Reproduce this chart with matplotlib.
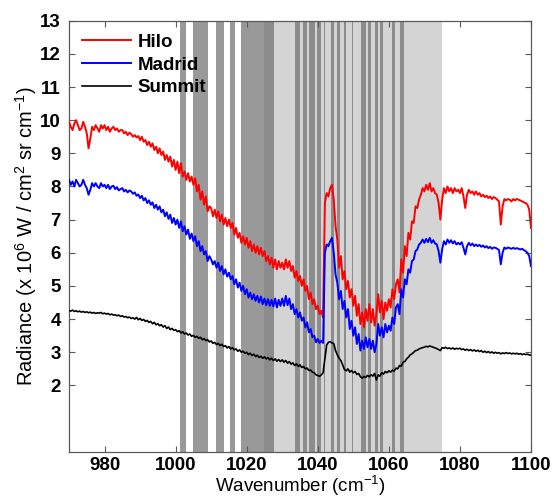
import numpy as np
import matplotlib
matplotlib.use("Agg")
import matplotlib.pyplot as plt

plt.rcParams["font.family"] = ["Liberation Sans", "DejaVu Sans"]
plt.rcParams["mathtext.fontset"] = "custom"
plt.rcParams["mathtext.rm"] = "Liberation Sans"
plt.rcParams["mathtext.it"] = "Liberation Sans:italic"
plt.rcParams["mathtext.bf"] = "Liberation Sans:bold"

# wavenumber grid, 970 -> 1100 cm-1 in 0.5 steps (261 points)
wavenumber = np.arange(970.0, 1100.25, 0.5)

hilo = [
    9.95, 9.80, 9.70, 9.90, 10.00, 9.85, 9.70, 9.75, 9.95, 9.80,
    9.60, 9.15, 9.45, 9.80, 9.70, 9.85, 9.75, 9.65, 9.85, 9.75,
    9.85, 9.70, 9.80, 9.65, 9.75, 9.80, 9.70, 9.75, 9.65, 9.70,
    9.70, 9.60, 9.65, 9.55, 9.62, 9.58, 9.50, 9.55, 9.48, 9.52,
    9.40, 9.50, 9.35, 9.40, 9.25, 9.35, 9.20, 9.30, 9.10, 9.20,
    9.00, 9.15, 8.95, 9.05, 8.80, 8.95, 8.75, 8.90, 8.60, 8.80,
    8.50, 8.75, 8.40, 8.70, 8.30, 8.45, 8.20, 8.40, 8.15, 8.30,
    8.05, 8.25, 7.85, 8.05, 7.60, 7.85, 7.45, 7.70, 7.25, 7.40,
    7.35, 7.10, 7.30, 7.05, 7.25, 6.95, 7.15, 6.85, 7.05, 6.80,
    7.00, 6.75, 6.90, 6.55, 6.75, 6.45, 6.60, 6.30, 6.50, 6.25,
    6.45, 6.15, 6.35, 6.05, 6.25, 6.00, 6.20, 5.95, 6.15, 5.90,
    6.05, 5.75, 5.90, 5.65, 5.85, 5.55, 5.80, 5.50, 5.75, 5.55,
    5.70, 5.50, 5.80, 5.55, 5.75, 5.45, 5.60, 5.25, 5.45, 5.15,
    5.30, 5.00, 5.20, 4.85, 5.00, 4.60, 4.80, 4.45, 4.60, 4.30,
    4.40, 4.15, 4.25, 4.05, 7.50, 7.80, 7.70, 7.95, 8.05, 7.60,
    6.80, 6.40, 5.55, 5.90, 5.20, 5.45, 4.90, 5.15, 4.65, 4.90,
    4.40, 4.70, 4.10, 4.45, 3.85, 4.20, 3.75, 4.30, 3.95, 4.45,
    3.90, 4.30, 3.80, 4.15, 4.75, 4.20, 4.55, 4.00, 4.50, 4.25,
    4.60, 4.35, 4.90, 4.60, 5.05, 5.20, 4.80, 5.80, 5.40, 6.20,
    5.90, 6.60, 6.40, 6.95, 6.90, 7.40, 7.35, 7.60, 7.75, 7.95,
    7.85, 8.05, 7.90, 8.10, 7.85, 7.95, 7.80, 7.75, 7.50, 7.00,
    7.60, 7.95, 7.80, 8.00, 7.85, 7.95, 7.80, 7.95, 7.85, 7.90,
    7.80, 7.95, 7.70, 7.35, 7.75, 7.90, 7.80, 7.85, 7.75, 7.85,
    7.75, 7.80, 7.70, 7.75, 7.68, 7.72, 7.65, 7.70, 7.62, 7.68,
    7.65, 7.60, 7.55, 6.85, 7.40, 7.62, 7.58, 7.62, 7.60, 7.55,
    7.62, 7.58, 7.62, 7.60, 7.58, 7.55, 7.52, 7.50, 7.45, 7.30,
    6.75,
]

madrid = [
    8.20, 8.05, 8.15, 8.00, 8.20, 8.10, 8.00, 8.05, 8.20, 8.05,
    7.95, 7.75, 7.90, 8.10, 8.00, 8.10, 8.00, 7.95, 8.10, 8.00,
    8.05, 7.95, 8.05, 7.92, 8.00, 8.02, 7.92, 7.98, 7.88, 7.92,
    7.95, 7.85, 7.90, 7.82, 7.88, 7.85, 7.78, 7.82, 7.72, 7.76,
    7.65, 7.72, 7.58, 7.65, 7.50, 7.58, 7.45, 7.52, 7.35, 7.45,
    7.30, 7.40, 7.22, 7.30, 7.10, 7.22, 7.02, 7.15, 6.90, 7.05,
    6.85, 7.00, 6.75, 6.95, 6.65, 6.80, 6.55, 6.70, 6.42, 6.58,
    6.35, 6.50, 6.20, 6.35, 6.05, 6.20, 5.95, 6.05, 5.75, 5.90,
    5.80, 5.65, 5.75, 5.55, 5.70, 5.45, 5.60, 5.35, 5.50, 5.28,
    5.40, 5.20, 5.30, 5.05, 5.20, 4.95, 5.10, 4.85, 5.00, 4.75,
    4.90, 4.65, 4.80, 4.60, 4.75, 4.55, 4.70, 4.50, 4.68, 4.45,
    4.62, 4.42, 4.60, 4.40, 4.58, 4.38, 4.62, 4.35, 4.58, 4.40,
    4.62, 4.40, 4.70, 4.42, 4.62, 4.30, 4.45, 4.15, 4.30, 4.05,
    4.20, 3.95, 4.05, 3.75, 3.90, 3.60, 3.70, 3.45, 3.50, 3.30,
    3.40, 3.28, 3.35, 3.28, 6.00, 6.25, 6.20, 6.35, 6.45, 6.00,
    5.35, 5.10, 4.60, 4.85, 4.30, 4.55, 4.05, 4.30, 3.70, 3.95,
    3.50, 3.75, 3.25, 3.55, 3.05, 3.35, 3.10, 3.45, 3.15, 3.40,
    3.10, 3.35, 3.00, 3.25, 3.85, 3.50, 3.75, 3.45, 3.85, 3.60,
    3.80, 3.65, 4.05, 3.85, 4.35, 4.45, 4.15, 4.90, 4.65, 5.20,
    5.05, 5.50, 5.40, 5.75, 5.80, 6.05, 6.10, 6.25, 6.30, 6.40,
    6.30, 6.42, 6.32, 6.45, 6.30, 6.38, 6.28, 6.25, 6.05, 5.70,
    6.10, 6.35, 6.25, 6.40, 6.30, 6.38, 6.28, 6.35, 6.25, 6.30,
    6.25, 6.32, 6.15, 5.95, 6.20, 6.30, 6.22, 6.28, 6.20, 6.25,
    6.20, 6.24, 6.18, 6.22, 6.16, 6.20, 6.14, 6.18, 6.12, 6.16,
    6.15, 6.12, 6.08, 5.65, 6.00, 6.16, 6.12, 6.16, 6.14, 6.12,
    6.15, 6.12, 6.14, 6.12, 6.10, 6.12, 6.08, 6.05, 6.00, 5.90,
    5.60,
]

summit = [
    4.26, 4.24, 4.27, 4.23, 4.25, 4.22, 4.24, 4.21, 4.23, 4.20,
    4.22, 4.19, 4.21, 4.18, 4.20, 4.17, 4.19, 4.18, 4.20, 4.16,
    4.18, 4.15, 4.17, 4.13, 4.15, 4.12, 4.13, 4.10, 4.12, 4.08,
    4.10, 4.06, 4.08, 4.04, 4.06, 4.02, 4.04, 4.00, 4.05, 3.98,
    4.02, 3.96, 3.99, 3.93, 3.96, 3.90, 3.93, 3.86, 3.90, 3.83,
    3.86, 3.80, 3.83, 3.76, 3.80, 3.72, 3.76, 3.68, 3.72, 3.66,
    3.68, 3.62, 3.65, 3.58, 3.62, 3.55, 3.58, 3.52, 3.55, 3.48,
    3.51, 3.45, 3.48, 3.42, 3.45, 3.38, 3.41, 3.35, 3.38, 3.31,
    3.34, 3.27, 3.30, 3.23, 3.27, 3.20, 3.24, 3.17, 3.20, 3.13,
    3.17, 3.10, 3.14, 3.07, 3.10, 3.03, 3.07, 3.00, 3.03, 2.97,
    3.00, 2.93, 2.97, 2.90, 2.94, 2.87, 2.91, 2.84, 2.88, 2.82,
    2.86, 2.80, 2.84, 2.77, 2.82, 2.75, 2.80, 2.73, 2.78, 2.72,
    2.77, 2.70, 2.75, 2.67, 2.72, 2.64, 2.68, 2.60, 2.65, 2.57,
    2.62, 2.54, 2.57, 2.50, 2.52, 2.45, 2.46, 2.40, 2.38, 2.32,
    2.30, 2.27, 2.32, 2.38, 2.80, 3.22, 3.30, 3.32, 3.28, 3.26,
    3.05, 2.92, 2.82, 2.75, 2.62, 2.48, 2.44, 2.50, 2.40, 2.45,
    2.38, 2.42, 2.33, 2.36, 2.26, 2.22, 2.27, 2.24, 2.30, 2.26,
    2.32, 2.28, 2.36, 2.16, 2.32, 2.28, 2.38, 2.34, 2.42, 2.38,
    2.44, 2.40, 2.46, 2.43, 2.52, 2.50, 2.60, 2.58, 2.70, 2.72,
    2.80, 2.85, 2.92, 2.95, 3.00, 3.05, 3.06, 3.10, 3.12, 3.14,
    3.15, 3.18, 3.16, 3.19, 3.17, 3.15, 3.13, 3.11, 3.08, 3.05,
    3.14, 3.12, 3.15, 3.11, 3.13, 3.10, 3.13, 3.09, 3.12, 3.10,
    3.12, 3.08, 3.10, 3.06, 3.09, 3.05, 3.08, 3.04, 3.07, 3.03,
    3.06, 3.02, 3.05, 3.00, 3.03, 2.99, 3.02, 2.98, 3.01, 2.97,
    3.00, 2.97, 2.99, 2.95, 2.98, 2.96, 2.99, 2.96, 2.98, 2.95,
    2.97, 2.95, 2.97, 2.94, 2.96, 2.93, 2.95, 2.93, 2.94, 2.92,
    2.91,
]

# shaded spectral windows (cm-1)
light_window = (1025.0, 1075.0)
dark_windows = [
    (1001.2, 1002.9), (1004.9, 1009.1), (1011.4, 1013.6), (1015.2, 1016.8),
    (1018.3, 1027.7), (1033.6, 1035.0), (1035.8, 1037.0), (1037.6, 1039.2),
    (1039.7, 1040.8), (1041.8, 1042.1), (1043.7, 1044.5), (1045.4, 1046.2),
    (1047.4, 1048.0), (1049.5, 1049.8), (1052.3, 1053.5), (1054.1, 1054.9),
    (1056.0, 1057.0), (1057.5, 1058.4), (1060.9, 1061.8), (1063.1, 1064.3),
]

fig = plt.figure(figsize=(5.52, 5.01), dpi=100)
ax = fig.add_axes([69 / 552, 49.3 / 501, 462 / 552, 431 / 501])

ax.axvspan(*light_window, color="0.83", lw=0, zorder=0)
for lo, hi in dark_windows:
    ax.axvspan(lo, hi, color="0.43", alpha=0.7, lw=0, zorder=0.5)

ax.plot(wavenumber, hilo, color="#ff0000", lw=1.4, label="Hilo", zorder=3)
ax.plot(wavenumber, madrid, color="#0000ff", lw=1.4, label="Madrid", zorder=3)
ax.plot(wavenumber, summit, color="black", lw=1.2, label="Summit", zorder=3)

ax.set_xlim(970, 1100)
ax.set_ylim(0, 13)
ax.set_xticks(np.arange(980, 1101, 20))
ax.set_yticks(np.arange(2, 14, 1))
ax.tick_params(direction="in", top=True, right=True, length=4, width=0.8,
               color="0.35", labelsize=13.5, pad=6)
ax.tick_params(axis="x", pad=4)
for lab in ax.get_xticklabels() + ax.get_yticklabels():
    lab.set_fontweight("bold")
for sp in ax.spines.values():
    sp.set_color("0.35")
    sp.set_linewidth(0.9)

ax.set_xlabel("Wavenumber (cm$^{-1}$)", fontsize=13.5, labelpad=0)
ax.set_ylabel("Radiance (x 10$^{6}$ W / cm$^{2}$ sr cm$^{-1}$)", fontsize=14.5, labelpad=1)

leg = ax.legend(loc="upper left", frameon=False, prop={"weight": "bold", "size": 13.5},
                handlelength=2.6, handletextpad=0.35, labelspacing=0.3,
                borderaxespad=0.3, bbox_to_anchor=(0.0, 1.0))

fig.savefig("out.png", dpi=100)
